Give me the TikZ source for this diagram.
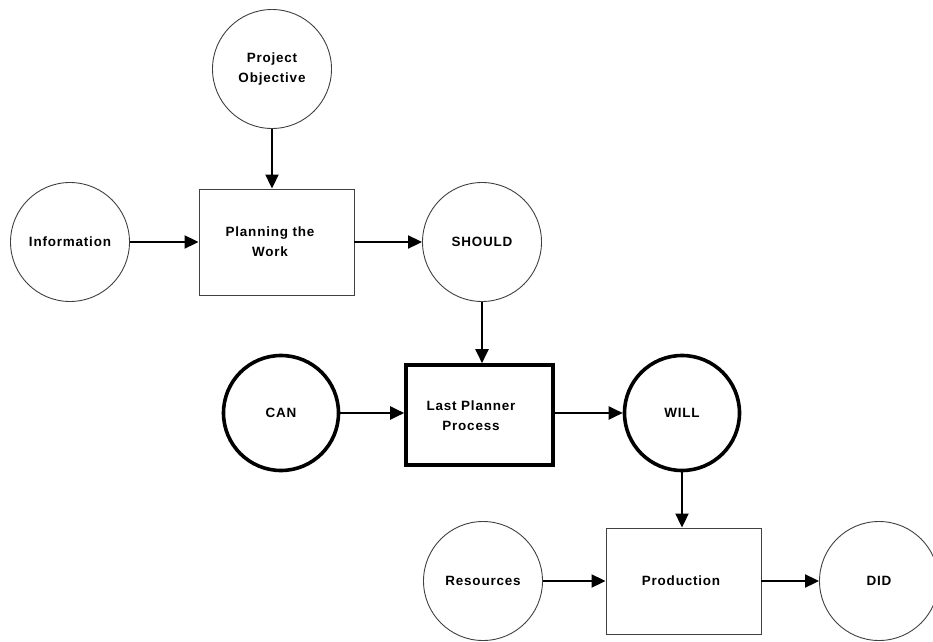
\documentclass[tikz,border=0pt]{standalone}
\usepackage{fontspec}
\setmainfont{Liberation Sans}[LetterSpace=6]
\usetikzlibrary{arrows.meta}
\begin{document}
\begin{tikzpicture}[x=1bp,y=-1bp,
  every node/.style={font=\bfseries\fontsize{13.5}{20}\selectfont, align=center, inner sep=0pt},
  thincirc/.style={circle, draw=black!75, line width=0.9bp, minimum size=119bp},
  thickcirc/.style={circle, draw=black, line width=3.6bp, minimum size=115bp},
  thinbox/.style={rectangle, draw=black!75, line width=0.9bp},
  thickbox/.style={rectangle, draw=black, line width=3.6bp},
  arr/.style={line width=2bp, -{Triangle[length=14bp,width=13bp]}}
]
\useasboundingbox (0,0) rectangle (933,642);
\node[thincirc] (po) at (272,69) {Project\\Objective};
\node[thincirc] (info) at (70,242) {Information};
\node[thinbox, minimum width=155bp, minimum height=106bp] (plan) at (276.5,242) {};
\node at (270,242) {Planning the\\Work};
\node[thincirc] (should) at (482,242) {SHOULD};
\node[thickcirc] (can) at (281,413) {CAN};
\node[thickbox, minimum width=147bp, minimum height=100bp] (lpp) at (479.5,415) {};
\node at (471,416) {Last Planner\\Process};
\node[thickcirc] (will) at (682,413) {WILL};
\node[thincirc] (res) at (483,581) {Resources};
\node[thinbox, minimum width=155bp, minimum height=106bp] (prod) at (683.5,581) {};
\node at (681,581) {Production};
\node[thincirc] (did) at (879,581) {DID};
\draw[arr] (po) -- (po |- plan.north);
\draw[arr] (info) -- (plan);
\draw[arr] (plan) -- (should);
\draw[arr] (should.south) -- (should.south |- lpp.north);
\draw[arr] (can) -- (can -| lpp.west);
\draw[arr] (lpp.east |- will) -- (will);
\draw[arr] (will.south) -- (will.south |- prod.north);
\draw[arr] (res) -- (prod);
\draw[arr] (prod) -- (did);
\end{tikzpicture}
\end{document}
